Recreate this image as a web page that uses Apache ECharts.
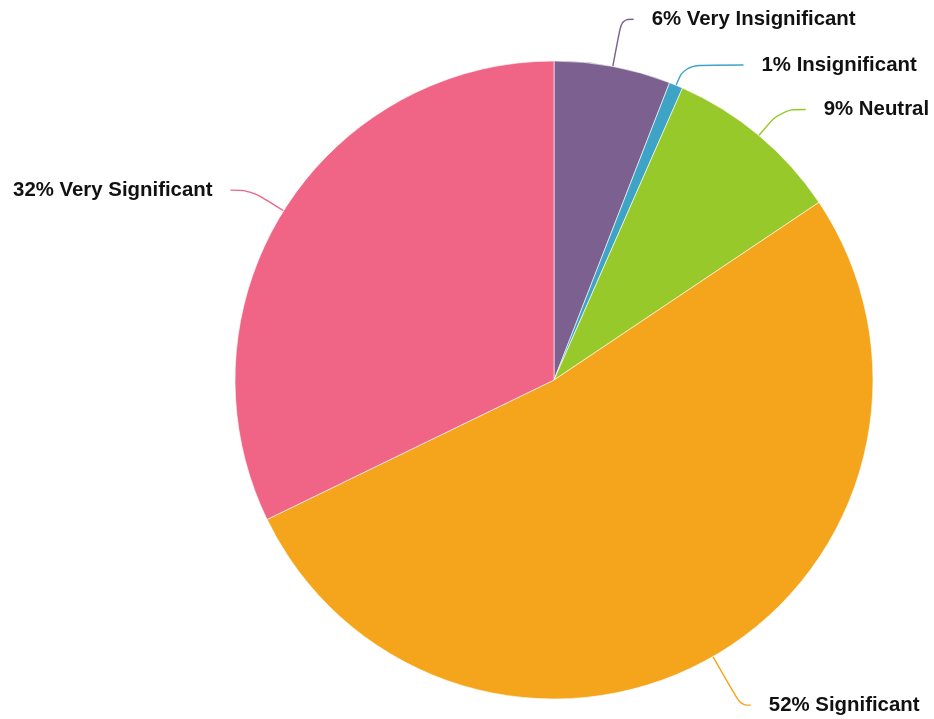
<!DOCTYPE html>
<html><head><meta charset="utf-8">
<script src="https://cdn.jsdelivr.net/npm/echarts@6/dist/echarts.min.js"></script>
<style>html,body{margin:0;padding:0;background:#fff}#c{width:934px;height:719px}</style>
</head><body><div id="c"></div>
<script>
const categories = ["Very Insignificant", "Insignificant", "Neutral", "Significant", "Very Significant"];
const values = [5.9, 0.7, 9.0, 52.2, 32.2];
const colors = ["#7c6190", "#3ea4c5", "#97c92b", "#f5a51b", "#f06586"];
const lineLen = [48, 22, 34, 56, 39];
const lineLen2 = [12, 59, 25, 10, 20];

const chart = echarts.init(document.getElementById('c'), null, {renderer: 'canvas'});
chart.setOption({
  animation: false,
  series: [{
    type: 'pie',
    center: [554, 380],
    radius: 319,
    startAngle: 90,
    clockwise: true,
    avoidLabelOverlap: false,
    itemStyle: {borderColor: '#ffffff', borderWidth: 0.6},
    label: {
      show: true,
      color: '#111',
      fontFamily: '"Liberation Sans", Arial, sans-serif',
      fontWeight: 'bold',
      fontSize: 20.4,
      distanceToLabelLine: 18,
      formatter: p => Math.round(p.percent) + '% ' + p.name
    },
    labelLine: {show: true, smooth: 0.4, lineStyle: {width: 1.4}},
    data: categories.map((n, i) => ({
      name: n,
      value: values[i],
      itemStyle: {color: colors[i]},
      labelLine: {length: lineLen[i], length2: lineLen2[i]}
    }))
  }]
});
</script></body></html>
